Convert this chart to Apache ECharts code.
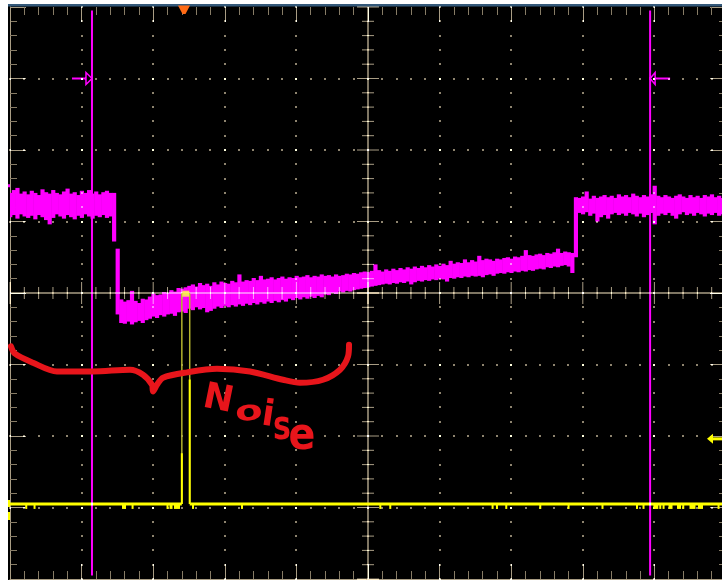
<!DOCTYPE html>
<html>
<head>
<meta charset="utf-8">
<title>Scope capture</title>
<script src="https://cdn.jsdelivr.net/npm/echarts@6.0.0/dist/echarts.min.js"></script>
<style>
html, body { margin: 0; padding: 0; background: #fff; }
#main { width: 722px; height: 580px; }
</style>
</head>
<body>
<div id="main"></div>
<script>
// everything is in screen divisions: 10 across (time), 8 high (-4..4)

// CH2 (magenta) peak-detect samples, one every magStep div
var magStart = 0;
var magStep = 0.05;
var magHi = [
  1.40,1.44,1.47,1.39,1.42,1.38,1.43,1.40,1.37,1.45,1.41,1.39,1.44,1.40,1.38,1.42,1.46,1.39,1.41,1.37,1.43,1.40,1.44,1.39,1.42,1.38,1.41,1.43,1.40,
  1.40, 0.62, -0.09,
  -0.12,-0.10,0.03,-0.11,-0.14,-0.08,-0.09,-0.05,
  -0.01,-0.03,-0.02,0.01,0.00,0.04,0.02,0.07,0.06,0.08,
  0.10,0.12,0.09,0.14,0.11,0.13,0.10,0.15,0.12,0.16,
  0.14,0.13,0.17,0.15,0.26,0.16,0.18,0.17,0.21,0.18,
  0.24,0.19,0.20,0.22,0.19,0.21,0.23,0.20,0.22,0.21,
  0.24,0.22,0.23,0.25,0.22,0.24,0.23,0.26,0.24,0.25,
  0.23,0.26,0.24,0.25,0.27,0.26,0.28,0.27,0.29,0.30,
  0.29,0.31,0.40,0.32,0.30,0.33,0.31,0.34,0.32,0.35,
  0.33,0.36,0.34,0.37,0.35,0.38,0.36,0.39,0.37,0.40,
  0.38,0.41,0.39,0.45,0.41,0.43,0.42,0.47,0.43,0.46,
  0.44,0.52,0.46,0.48,0.47,0.45,0.48,0.47,0.49,0.50,
  0.48,0.51,0.50,0.52,0.60,0.53,0.52,0.54,0.55,0.53,
  0.56,0.55,0.57,0.62,0.56,0.58,0.57,0.56,
  1.34,
  1.33,1.35,1.42,1.32,1.36,1.33,1.35,1.37,1.34,1.36,1.33,
  1.38,1.35,1.37,1.34,1.39,1.36,1.34,1.37,1.35,1.38,
  1.50,1.36,1.34,1.37,1.35,1.33,1.36,1.38,1.35,1.33,
  1.37,1.34,1.36,1.33,1.37,1.35,1.38,1.34,1.36,1.33
];
var magLo = [
  1.06,1.09,1.04,1.10,1.07,1.05,1.08,1.03,1.09,1.06,1.02,0.96,1.05,1.10,1.07,1.04,1.09,1.06,1.03,1.08,1.05,1.10,1.07,1.04,1.08,1.06,1.09,1.05,1.07,
  0.72, -0.30, -0.42,
  -0.43,-0.40,-0.44,-0.41,-0.39,-0.42,-0.38,-0.36,
  -0.33,-0.35,-0.31,-0.33,-0.30,-0.29,-0.32,-0.27,-0.26,-0.28,
  -0.22,-0.24,-0.20,-0.23,-0.21,-0.27,-0.25,-0.22,-0.19,-0.21,
  -0.18,-0.20,-0.17,-0.19,-0.16,-0.18,-0.15,-0.17,-0.14,-0.16,
  -0.13,-0.15,-0.12,-0.14,-0.11,-0.13,-0.10,-0.12,-0.08,-0.10,
  -0.07,-0.09,-0.06,-0.08,-0.05,-0.07,-0.04,-0.06,-0.02,-0.03,
  0.00,-0.01,0.02,0.01,0.03,0.02,0.04,0.05,0.06,0.07,
  0.08,0.09,0.10,0.11,0.12,0.13,0.12,0.14,0.13,0.15,
  0.14,0.16,0.12,0.15,0.17,0.16,0.18,0.17,0.19,0.18,
  0.20,0.19,0.16,0.21,0.20,0.22,0.21,0.23,0.22,0.24,
  0.23,0.24,0.22,0.25,0.26,0.24,0.27,0.28,0.27,0.29,
  0.28,0.30,0.29,0.31,0.30,0.32,0.31,0.33,0.34,0.33,
  0.36,0.35,0.37,0.36,0.38,0.39,0.37,0.28,
  0.50,
  1.12,1.10,1.13,1.08,1.11,1.00,1.06,1.09,1.04,1.10,1.12,
  1.09,1.11,1.08,1.12,1.10,1.07,1.11,1.06,1.09,1.12,
  0.96,1.08,1.11,1.09,1.12,1.08,1.04,1.10,1.13,1.09,
  1.11,1.08,1.12,1.10,1.07,1.11,1.09,1.12,1.08,1.10
];

// CH1 (yellow)
var yelLevel = -2.95;
var yelPulse = [2.40, 2.51];     // rising / falling edge
var yelTop = -0.01;
var yelBright = [-2.24, -1.21];  // where the edges turn bright
var glitchX = [0.223,0.339,1.592,1.708,2.200,2.249,2.332,2.552,3.236,5.168,5.307,6.736,6.797,6.927,7.402,7.797,8.275,8.753,8.848,9.020,9.078,9.124,9.225,9.344,9.399,9.532,9.644,9.892];
var glitchW = [0.02,0.02,0.056,0.02,0.028,0.042,0.084,0.02,0.02,0.02,0.02,0.02,0.02,0.02,0.02,0.02,0.028,0.02,0.028,0.07,0.02,0.02,0.056,0.056,0.02,0.084,0.07,0.02];
var glitchDepth = -3.02;

// cursors and trigger
var cursorX = [1.145, 8.94];
var cursorMarkY = 3;
var trigPos = 2.43;
var trigLevel = -2.04;
var ch2Marker = 1.5;

// hand drawn brace
var braceX = [0.014,0.07,0.321,0.656,1.159,1.676,1.858,1.983,1.997,2.053,2.137,2.472,2.891,3.352,3.813,4.050,4.372,4.609,4.721,4.735];
var braceY = [-0.747,-0.849,-0.975,-1.097,-1.097,-1.073,-1.143,-1.283,-1.376,-1.283,-1.185,-1.110,-1.059,-1.097,-1.213,-1.255,-1.213,-1.073,-0.887,-0.723];

var TICK = '#a99d84';
var MINOR = '#877c66';
var DOT = '#8e846f';
var MAG = '#ff00ff';
var YEL = '#ffff00';
var RED = '#e8151b';

var chart = echarts.init(document.getElementById('main'));

function xAx(pos) {
  return {
    type: 'value', min: 0, max: 10, interval: 1, position: pos,
    axisLine: { show: pos === 'bottom', onZero: false, lineStyle: { color: TICK, width: 1 } },
    axisTick: { show: true, inside: true, length: 15, lineStyle: { color: TICK } },
    minorTick: { show: true, splitNumber: 5, length: 8, lineStyle: { color: MINOR } },
    axisLabel: { show: false },
    splitLine: { show: false }
  };
}
function yAx(pos) {
  return {
    type: 'value', min: -4, max: 4, interval: 1, position: pos,
    axisLine: { show: pos === 'left', onZero: false, lineStyle: { color: TICK, width: 1 } },
    axisTick: { show: true, inside: true, length: 16, lineStyle: { color: TICK } },
    minorTick: { show: true, splitNumber: 5, length: 7, lineStyle: { color: MINOR } },
    axisLabel: { show: false },
    splitLine: { show: false }
  };
}

function dot(x, y) {
  return { type: 'rect', shape: { x: Math.round(x) - 1, y: Math.round(y) - 1, width: 2, height: 2 }, style: { fill: DOT } };
}
function seg(x1, y1, x2, y2, w, color) {
  return { type: 'line', shape: { x1: x1, y1: y1, x2: x2, y2: y2 }, style: { stroke: color, lineWidth: w } };
}

function graticule(params, api) {
  var kids = [];
  var a = api.coord([0, -4]), b = api.coord([10, 4]);
  var c = api.coord([5, 0]);
  var i, k, p, q, len;
  for (i = 1; i < 10; i++) {
    if (i === 5) continue;
    p = api.coord([i, 0])[0];
    for (k = 0; k <= 40; k++) kids.push(dot(p, api.coord([i, -4 + k * 0.2])[1]));
  }
  for (i = -3; i <= 3; i++) {
    if (i === 0) continue;
    q = api.coord([0, i])[1];
    for (k = 0; k <= 50; k++) kids.push(dot(api.coord([k * 0.2, i])[0], q));
  }
  kids.push(seg(c[0], b[1], c[0], a[1], 1.5, TICK));
  kids.push(seg(a[0], c[1], b[0], c[1], 1.5, TICK));
  for (k = 0; k <= 50; k++) {
    p = api.coord([k * 0.2, 0])[0];
    len = k % 5 === 0 ? 11 : 6;
    kids.push(seg(p, c[1] - len, p, c[1] + len, 1, TICK));
  }
  for (k = 0; k <= 40; k++) {
    q = api.coord([5, -4 + k * 0.2])[1];
    len = k % 5 === 0 ? 11 : 6;
    kids.push(seg(c[0] - len, q, c[0] + len, q, 1, TICK));
  }
  return { type: 'group', children: kids };
}

function magRect(params, api) {
  var t = api.value(0);
  var a = api.coord([t - magStep / 2, api.value(2)]);
  var b = api.coord([t + magStep / 2, api.value(1)]);
  return {
    type: 'rect',
    shape: { x: a[0], y: a[1], width: b[0] - a[0] + 0.6, height: Math.max(1.5, b[1] - a[1]) },
    style: { fill: MAG }
  };
}

function glitchRect(params, api) {
  var t = api.value(0), w = api.value(1);
  var a = api.coord([t - w / 2, yelLevel]);
  var b = api.coord([t + w / 2, glitchDepth]);
  var wd = Math.max(2, b[0] - a[0]);
  return { type: 'rect', shape: { x: a[0], y: a[1], width: wd, height: b[1] - a[1] }, style: { fill: YEL } };
}

function cursor(params, api) {
  var x = api.coord([api.value(0), 0])[0];
  var top = api.coord([0, 3.95])[1], bot = api.coord([0, -3.95])[1];
  var my = api.coord([0, cursorMarkY])[1];
  var kids = [seg(x, top, x, bot, 2, MAG)];
  if (params.dataIndex === 0) {
    kids.push(seg(x - 20, my, x - 6, my, 2, MAG));
    kids.push({ type: 'polygon', shape: { points: [[x - 6, my - 6], [x - 6, my + 6], [x, my]] }, style: { fill: null, stroke: MAG, lineWidth: 1.5 } });
  } else {
    kids.push(seg(x + 5, my, x + 20, my, 2, MAG));
    kids.push({ type: 'polygon', shape: { points: [[x + 5, my - 6], [x + 5, my + 6], [x, my]] }, style: { fill: null, stroke: MAG, lineWidth: 1.5 } });
  }
  return { type: 'group', children: kids };
}

function markers(params, api) {
  var t = api.coord([trigPos, 4]);
  var r = api.coord([10, trigLevel]);
  var l = api.coord([0, yelLevel]);
  var m = api.coord([0, ch2Marker]);
  return {
    type: 'group',
    children: [
      { type: 'polygon', shape: { points: [[t[0] - 6, t[1] - 1.5], [t[0] + 6, t[1] - 1.5], [t[0] + 1.5, t[1] + 7], [t[0] - 1.5, t[1] + 7]] }, style: { fill: '#ff6a14' } },
      { type: 'polygon', shape: { points: [[r[0] - 19, r[1]], [r[0] - 13, r[1] - 5], [r[0] - 13, r[1] + 5]] }, style: { fill: YEL } },
      { type: 'rect', shape: { x: r[0] - 14, y: r[1] - 1.5, width: 12, height: 3 }, style: { fill: YEL } },
      { type: 'rect', shape: { x: l[0] - 2, y: l[1] - 4, width: 2, height: 7 }, style: { fill: YEL } },
      { type: 'rect', shape: { x: l[0] - 2, y: l[1] + 8, width: 2, height: 8 }, style: { fill: YEL } },
      { type: 'rect', shape: { x: m[0] - 2, y: m[1] - 1.5, width: 2, height: 3 }, style: { fill: MAG } }
    ]
  };
}

var magData = magHi.map(function (h, i) { return [magStart + i * magStep, magLo[i], h]; });
var glitchData = glitchX.map(function (x, i) { return [x, glitchW[i]]; });
var braceData = braceX.map(function (x, i) { return [x, braceY[i]]; });
var pulseMid = (yelPulse[0] + yelPulse[1]) / 2;

function letter(ch, x, y, size, rot, sx, sy) {
  return {
    type: 'text', x: x, y: y, rotation: rot || 0, scaleX: sx || 1, scaleY: sy || 1, z: 100,
    style: { text: ch, fill: RED, font: 'bold ' + size + 'px "DejaVu Sans"', textAlign: 'center', textVerticalAlign: 'middle' }
  };
}

chart.setOption({
  animation: false,
  backgroundColor: '#000',
  grid: { left: 10, top: 7, width: 716, height: 572, show: false, outerBoundsMode: 'none' },
  xAxis: [xAx('bottom'), xAx('top')],
  yAxis: [yAx('left'), yAx('right')],
  graphic: [
    { type: 'rect', shape: { x: 0, y: 0, width: 8, height: 580 }, style: { fill: '#fff' } },
    { type: 'rect', shape: { x: 0, y: 0, width: 722, height: 4 }, style: { fill: '#fff' } },
    { type: 'rect', shape: { x: 8, y: 4, width: 714, height: 2.5 }, style: { fill: '#34597a' } },
    letter('N', 218, 400, 36, -0.2),
    letter('o', 249, 413, 40, 0.1, 1, 0.7),
    letter('i', 268, 416, 36, -0.15),
    letter('s', 282, 429, 40, 0, 0.75),
    letter('e', 302, 438, 44, 0, 0.9)
  ],
  series: [
    {
      name: 'CH2', type: 'custom', z: 2, clip: true, silent: true,
      data: magData, encode: { x: 0, y: [1, 2] }, renderItem: magRect
    },
    {
      name: 'graticule', type: 'custom', z: 3, silent: true, blendMode: 'lighter',
      data: [[5, 0]], renderItem: graticule
    },
    {
      name: 'CH1', type: 'line', z: 4, silent: true, symbol: 'none',
      lineStyle: { color: YEL, width: 3 },
      data: [[0, yelLevel], [yelPulse[0], yelLevel], [pulseMid, '-'], [yelPulse[1], yelLevel], [10, yelLevel]]
    },
    {
      name: 'CH1 pulse', type: 'line', z: 4, silent: true, symbol: 'none',
      lineStyle: { color: '#b4b42e', width: 1.5 },
      data: [[yelPulse[0], yelLevel], [yelPulse[0], yelTop], [yelPulse[1], yelTop], [yelPulse[1], yelLevel]]
    },
    {
      name: 'CH1 edges', type: 'line', z: 4, silent: true, symbol: 'none',
      lineStyle: { color: YEL, width: 2 },
      data: [[yelPulse[0], yelLevel], [yelPulse[0], yelBright[0]], [pulseMid, '-'], [yelPulse[1], yelBright[1]], [yelPulse[1], yelLevel]]
    },
    {
      name: 'CH1 top', type: 'scatter', z: 4, silent: true, symbol: 'rect', symbolSize: [7, 6],
      itemStyle: { color: '#ffff4a' },
      data: [[pulseMid, yelTop]]
    },
    {
      name: 'CH1 glitches', type: 'custom', z: 4, silent: true,
      data: glitchData, renderItem: glitchRect
    },
    {
      name: 'cursors', type: 'custom', z: 6, silent: true, clip: false, blendMode: 'lighter',
      data: cursorX.map(function (x) { return [x, 0]; }), renderItem: cursor
    },
    {
      name: 'markers', type: 'custom', z: 7, silent: true, clip: false,
      data: [[5, 0]], renderItem: markers
    },
    {
      name: 'brace', type: 'line', z: 8, silent: true, symbol: 'none', smooth: 0.3,
      lineStyle: { color: RED, width: 6, cap: 'round', join: 'round' },
      data: braceData
    }
  ]
});
</script>
</body>
</html>
